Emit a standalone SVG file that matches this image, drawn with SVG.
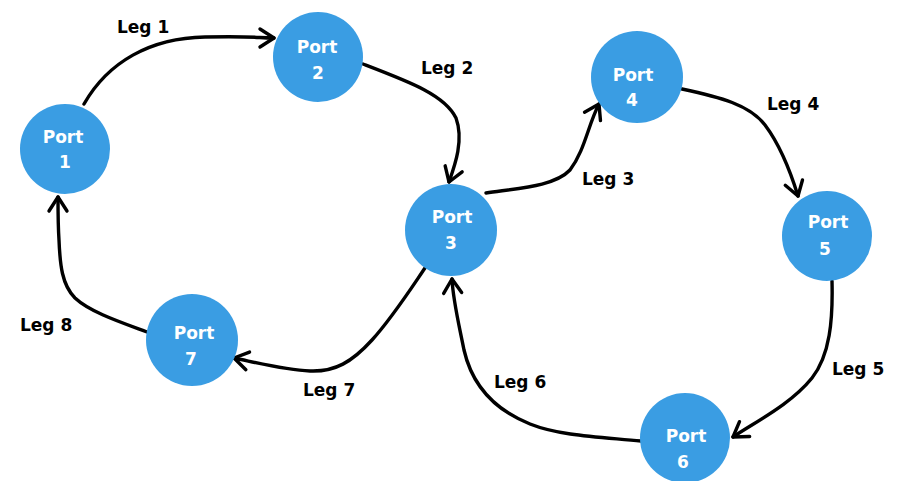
<svg xmlns="http://www.w3.org/2000/svg" width="899" height="481" viewBox="0 0 899 481">
<style>
.node circle{fill:#3a9de3;}
.node text{fill:#ffffff;font-family:"DejaVu Sans","Liberation Sans",sans-serif;font-weight:bold;font-size:17px;text-anchor:middle;}
.edge{fill:none;stroke:#000;stroke-width:3.4;stroke-linecap:round;marker-end:url(#arr);}
.lbl{fill:#000;font-family:"DejaVu Sans","Liberation Sans",sans-serif;font-weight:bold;font-size:17px;}
</style>
<defs>
<marker id="arr" viewBox="0 0 16 20" refX="15" refY="10" markerWidth="16" markerHeight="20" markerUnits="userSpaceOnUse" orient="auto" overflow="visible">
<path d="M1,1 L15,10 L1,19" fill="none" stroke="#000" stroke-width="3.4" stroke-linecap="round" stroke-linejoin="round"/>
</marker>
</defs>
<rect width="899" height="481" fill="#ffffff"/>
<g id="connectors">
<path class="edge" d="M84,104 C108,62 150,38 205,37 S255,38 274,38"/>
<path class="edge" d="M363,64 C410,82 445,95 456,118 C464,140 455,165 449,182"/>
<path class="edge" d="M486,193 C520,188 555,186 570,170 C585,150 588,125 599,104"/>
<path class="edge" d="M682,89 C720,97 750,105 765,125 C780,145 790,170 798,196"/>
<path class="edge" d="M832,281 C833,320 830,355 812,378 C790,405 755,422 733,437"/>
<path class="edge" d="M641,441 C600,437 560,436 530,424 C495,410 472,385 464,350 C458,320 453,300 452,279"/>
<path class="edge" d="M425,268 C410,290 392,318 372,340 C352,362 335,372 310,371 C285,370 258,363 234,358"/>
<path class="edge" d="M147,332 C120,322 90,312 75,298 C62,285 60,265 59,240 C58,225 58,210 58,197"/>
<text class="lbl" x="117" y="33">Leg 1</text>
<text class="lbl" x="421" y="74">Leg 2</text>
<text class="lbl" x="582" y="185">Leg 3</text>
<text class="lbl" x="767" y="110">Leg 4</text>
<text class="lbl" x="832" y="375">Leg 5</text>
<text class="lbl" x="494" y="388">Leg 6</text>
<text class="lbl" x="303" y="396">Leg 7</text>
<text class="lbl" x="20" y="331">Leg 8</text>
</g>
<g id="port1" class="node"><circle cx="65" cy="149" r="45"/><text x="63" y="143">Port</text><text x="65" y="168">1</text></g>
<g id="port2" class="node"><circle cx="318" cy="57" r="45"/><text x="317" y="53">Port</text><text x="318" y="79">2</text></g>
<g id="port3" class="node"><circle cx="451" cy="230" r="46"/><text x="452" y="223">Port</text><text x="451" y="249">3</text></g>
<g id="port4" class="node"><circle cx="637" cy="77" r="46"/><text x="633" y="81">Port</text><text x="632" y="106">4</text></g>
<g id="port5" class="node"><circle cx="827" cy="236" r="45"/><text x="828" y="228">Port</text><text x="825" y="255">5</text></g>
<g id="port6" class="node"><circle cx="685" cy="438" r="45"/><text x="686" y="442">Port</text><text x="683" y="468">6</text></g>
<g id="port7" class="node"><circle cx="192" cy="340" r="46"/><text x="194" y="339">Port</text><text x="191" y="365">7</text></g>
</svg>
